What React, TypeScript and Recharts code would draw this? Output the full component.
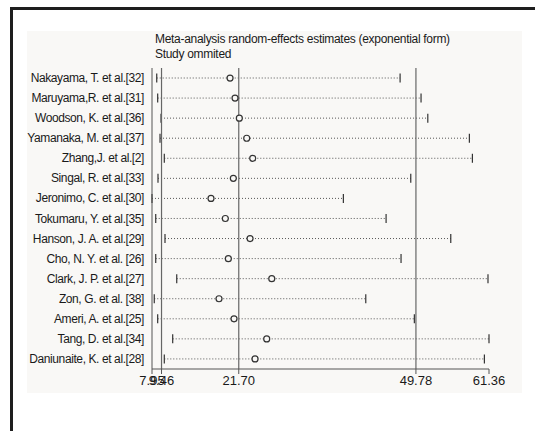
import React from "react";
import {
  ComposedChart,
  Bar,
  Line,
  XAxis,
  YAxis,
  ReferenceLine,
} from "recharts";

const studies = [
  "Nakayama, T. et al.[32]",
  "Maruyama,R. et al.[31]",
  "Woodson, K. et al.[36]",
  "Yamanaka, M. et al.[37]",
  "Zhang,J. et al.[2]",
  "Singal, R. et al.[33]",
  "Jeronimo, C. et al.[30]",
  "Tokumaru, Y. et al.[35]",
  "Hanson, J. A. et al.[29]",
  "Cho, N. Y. et al. [26]",
  "Clark, J. P. et al.[27]",
  "Zon, G. et al. [38]",
  "Ameri, A. et al.[25]",
  "Tang, D. et al.[34]",
  "Daniunaite, K. et al.[28]",
];
const lower = [8.7, 8.85, 9.38, 9.22, 9.9, 8.9, 7.95, 8.54, 10.01, 8.54, 11.87, 8.31, 8.85, 11.23, 9.9];
const estimate = [20.32, 21.11, 21.79, 22.96, 23.91, 20.84, 17.3, 19.57, 23.49, 20.05, 26.93, 18.57, 20.95, 26.13, 24.28];
const upper = [47.27, 50.59, 51.66, 58.25, 58.73, 48.96, 38.28, 45.05, 55.3, 47.42, 61.2, 41.83, 49.53, 61.36, 60.63];

const axisTicks = [7.95, 9.46, 21.7, 49.78, 61.36];
const refLines = [9.46, 21.7, 49.78];

const data = studies.map((name, i) => ({
  name,
  range: [lower[i], upper[i]],
  est: estimate[i],
}));

const font = "'Liberation Sans', Arial, sans-serif";

// dotted CI line with end caps
const CiShape = (props: any) => {
  const { x, y, width, height } = props;
  const cy = y + height / 2;
  return (
    <g>
      <line x1={x} x2={x + width} y1={cy} y2={cy} stroke="#555" strokeWidth={1} strokeDasharray="1 2" />
      <line x1={x} x2={x} y1={cy - 4.5} y2={cy + 4.5} stroke="#333" strokeWidth={1.2} />
      <line x1={x + width} x2={x + width} y1={cy - 4.5} y2={cy + 4.5} stroke="#333" strokeWidth={1.2} />
    </g>
  );
};

const EstDot = (props: any) => {
  const { cx, cy } = props;
  return <circle cx={cx} cy={cy} r={3} fill="#f9f8f6" stroke="#333" strokeWidth={1.2} />;
};

// single-line study label, right aligned
const StudyTick = (props: any) => {
  const { x, y, payload } = props;
  return (
    <text x={x} y={y} dy={4} textAnchor="end" fontSize={12} fill="#1a1a1a" fontFamily={font} letterSpacing={-0.4}>
      {payload.value}
    </text>
  );
};

export default function App() {
  return (
    <div style={{ position: "absolute", left: 0, top: 0, width: 535, height: 431, background: "#fff", overflow: "hidden", fontFamily: font }}>
      <div style={{ position: "absolute", left: 10, top: 7, width: 700, height: 700, borderTop: "3px solid #1e1e1e", borderLeft: "3px solid #1e1e1e" }} />
      <div style={{ position: "absolute", left: 27, top: 31, width: 495, height: 362, background: "#f9f8f6" }} />
      <div style={{ position: "absolute", left: 155, top: 32, fontSize: 12, letterSpacing: -0.3, color: "#1a1a1a", lineHeight: "15px" }}>
        <div>Meta-analysis random-effects estimates (exponential form)</div>
        <div>Study ommited</div>
      </div>
      <div style={{ position: "absolute", left: 0, top: 0 }}>
        <ComposedChart
          width={535}
          height={431}
          data={data}
          layout="vertical"
          margin={{ top: 68, right: 46, bottom: 32, left: 12 }}
        >
          <XAxis
            type="number"
            domain={[7.95, 61.36]}
            ticks={axisTicks}
            interval={0}
            tickFormatter={(v: number) => v.toFixed(2)}
            tick={{ fontSize: 13, fill: "#1a1a1a", fontFamily: font }}
            axisLine={{ stroke: "#555" }}
            tickLine={{ stroke: "#555" }}
            tickSize={5}
            height={30}
          />
          <YAxis
            type="category"
            dataKey="name"
            width={140}
            interval={0}
            tick={<StudyTick />}
            axisLine={{ stroke: "#555" }}
            tickLine={false}
          />
          {refLines.map((v) => (
            <ReferenceLine key={v} x={v} stroke="#666" strokeWidth={1.2} />
          ))}
          <Bar dataKey="range" barSize={10} shape={<CiShape />} isAnimationActive={false} />
          <Line dataKey="est" stroke="none" dot={<EstDot />} activeDot={false} isAnimationActive={false} />
        </ComposedChart>
      </div>
    </div>
  );
}
